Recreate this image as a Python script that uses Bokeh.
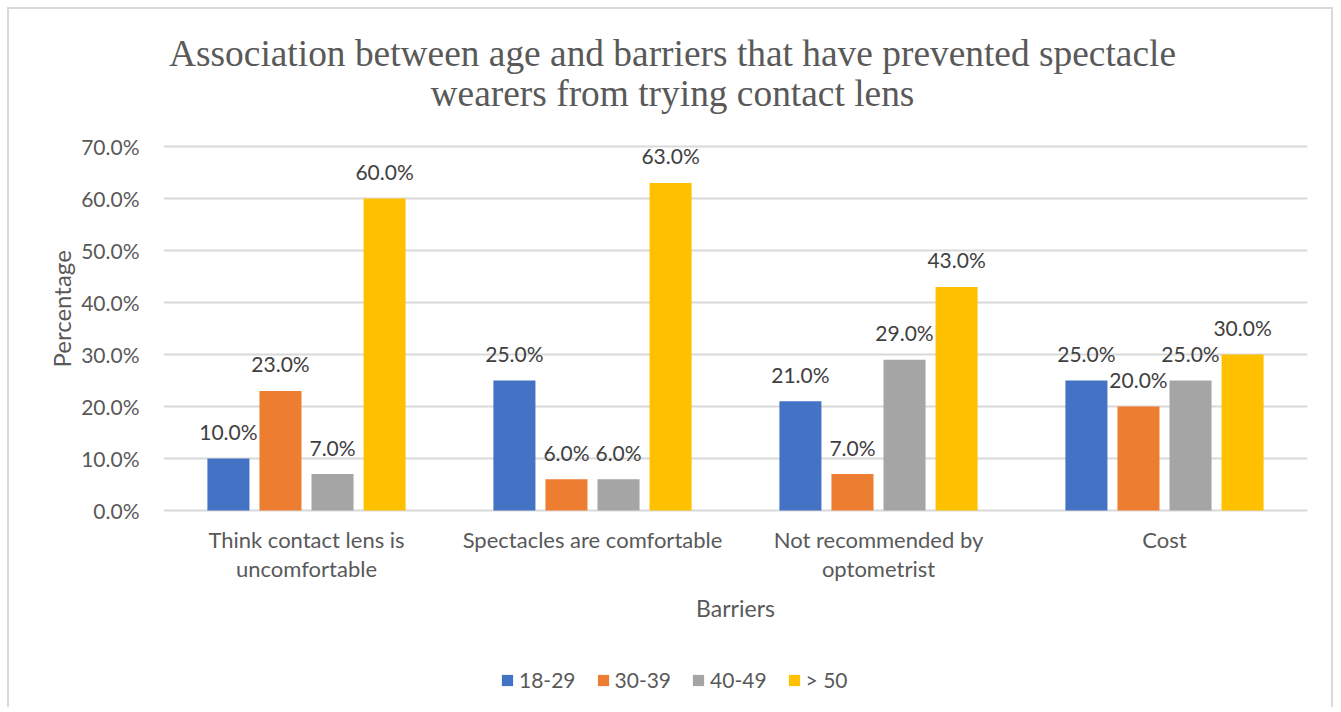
from bokeh.core.properties import value
from bokeh.embed import file_html
from bokeh.models import (ColumnDataSource, FactorRange, FixedTicker, Label, Legend,
                          LegendItem, Range1d, Title)
from bokeh.plotting import figure
from bokeh.resources import INLINE
from bokeh.transform import dodge

# ---- data -------------------------------------------------------------
categories = [
    "Think contact lens is\nuncomfortable",
    "Spectacles are comfortable",
    "Not recommended by\noptometrist",
    "Cost",
]
age_groups = ["18-29", "30-39", "40-49", "> 50"]
age_18_29 = [10.0, 25.0, 21.0, 25.0]
age_30_39 = [23.0, 6.0, 7.0, 20.0]
age_40_49 = [7.0, 6.0, 29.0, 25.0]
age_over_50 = [60.0, 63.0, 43.0, 30.0]
y_ticks = [0, 10, 20, 30, 40, 50, 60, 70]

title_lines = [
    "Association between age and barriers that have prevented spectacle",
    "wearers from trying contact lens",
]
x_title = "Barriers"
y_title = "Percentage"

# ---- styling ------------------------------------------------------------
colors = ["#4472C4", "#ED7D31", "#A5A5A5", "#FFC000"]
offsets = [-0.273, -0.091, 0.091, 0.273]
bar_width = 0.147
sans = "Lato"
serif = "Liberation Serif"
text_grey = "#595959"

# the plot frame runs the full height of the canvas so that the heading,
# category names and legend can all live inside it; 5.2 px per percent
PX_PER_UNIT = 5.2
ZERO_FROM_BOTTOM = 199   # px between the 0 % line and the canvas bottom
TOP_ABOVE_MAX = 137      # px between the canvas top and the 70 % line
H = 700
y_lo = -ZERO_FROM_BOTTOM / PX_PER_UNIT
y_hi = y_ticks[-1] + TOP_ABOVE_MAX / PX_PER_UNIT

p = figure(
    width=1326, height=H,
    x_range=FactorRange(*categories), y_range=Range1d(y_lo, y_hi),
    output_backend="svg", toolbar_location=None,
    min_border_left=154, min_border_right=28,
    min_border_top=0, min_border_bottom=0,
)
# thin light frame around the whole chart area
p.styles = {
    "margin-left": "7px", "margin-top": "7px",
    "border-left": "2px solid #D9D9D9",
    "border-right": "2px solid #D9D9D9",
    "border-top": "2px solid #D9D9D9",
}
p.outline_line_color = None
p.background_fill_color = "white"
p.border_fill_color = "white"

# grid
p.xgrid.visible = False
p.ygrid.grid_line_color = "#D9D9D9"
p.ygrid.grid_line_width = 2

# y axis
p.yaxis.ticker = FixedTicker(ticks=y_ticks)
p.yaxis.major_label_overrides = {t: f"{t:.1f}%" for t in y_ticks}
p.yaxis.axis_line_color = None
p.yaxis.major_tick_line_color = None
p.yaxis.minor_tick_line_color = None
p.yaxis.major_tick_out = 0
p.yaxis.major_tick_in = 0
p.yaxis.major_label_standoff = 24
p.yaxis.major_label_text_font = sans
p.yaxis.major_label_text_font_size = "21px"
p.yaxis.major_label_text_color = text_grey

# y title, anchored from the bottom of the left panel
p.add_layout(Title(text=y_title, align="left", offset=342, standoff=6,
                   text_font=sans, text_font_size="24px",
                   text_font_style="normal", text_color=text_grey), "left")

# x axis: category names are drawn under the zero line inside the frame
p.xaxis.visible = False
cat_src = ColumnDataSource(dict(cat=categories))
p.text(x="cat", y=0, text="cat", source=cat_src, y_offset=15,
       text_align="center", text_baseline="top", text_line_height=1.1,
       text_font=value(sans), text_font_size="22px", text_color=text_grey)
p.add_layout(Label(x=572, y=102, x_units="screen", y_units="screen", text=x_title,
                   text_align="center", text_baseline="alphabetic",
                   text_font=sans, text_font_size="23px", text_color=text_grey))

# bars and value labels
series = [age_18_29, age_30_39, age_40_49, age_over_50]
legend_items = []
for name, vals, color, off in zip(age_groups, series, colors, offsets):
    src = ColumnDataSource(dict(
        cat=categories, val=vals, lbl=[f"{v:.1f}%" for v in vals]))
    r = p.vbar(x=dodge("cat", off, range=p.x_range), top="val", width=bar_width,
               source=src, fill_color=color, line_color=None)
    p.text(x=dodge("cat", off, range=p.x_range), y="val", text="lbl", source=src,
           text_align="center", text_baseline="alphabetic", y_offset=-27,
           text_font=value(sans), text_font_size="21px", text_color="#404040")
    legend_items.append(LegendItem(label=name, renderers=[r]))

p.add_layout(Legend(
    items=legend_items, orientation="horizontal", location=(337, 17),
    glyph_width=14, glyph_height=14, label_standoff=5, spacing=20,
    padding=0, margin=0, border_line_color=None, background_fill_alpha=0,
    label_text_font=sans, label_text_font_size="21px", label_text_color=text_grey,
), "center")

# heading, two centred lines
for text, y in zip(title_lines, [656, 616]):
    p.add_layout(Label(x=509, y=y, x_units="screen", y_units="screen", text=text,
                       text_align="center", text_baseline="alphabetic",
                       text_font=serif, text_font_size="37.4px",
                       text_color=text_grey))

open("out.html", "w").write(file_html(p, INLINE))
